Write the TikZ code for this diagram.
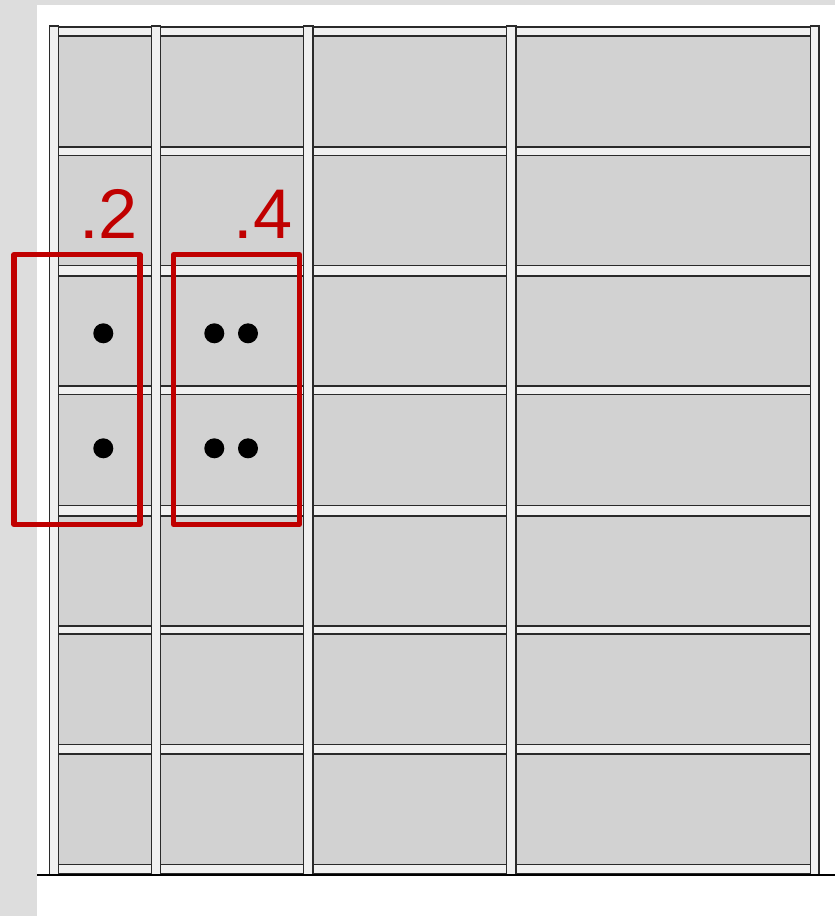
\documentclass[tikz,border=0pt]{standalone}
\usepackage{fontspec}
\setmainfont{Liberation Sans}
\definecolor{bggray}{HTML}{DDDDDD}
\definecolor{panelgray}{HTML}{D2D2D2}
\definecolor{railgray}{HTML}{F0F0F0}
\definecolor{edgegray}{HTML}{2A2A2A}
\definecolor{markred}{HTML}{C00000}
\begin{document}
\begin{tikzpicture}[
  x=0.03cm, y=-0.03cm,
  rail/.style={fill=railgray, draw=edgegray, line width=1.4pt},
  post/.style={fill=railgray, draw=edgegray, line width=1.4pt},
  group/.style={draw=markred, line width=4.3pt, line join=round},
  dot/.style={circle, fill=black, inner sep=0pt, minimum size=0.6cm},
  level/.style={text=markred, font=\fontsize{60}{60}\selectfont, anchor=base, inner sep=0pt}
]
\useasboundingbox (0,0) rectangle (835,916);
\fill[bggray] (0,0) rectangle (835,916);
\fill[white] (37,5) rectangle (835,916);
% panels
\fill[panelgray] (58,27) rectangle (810,873);
% rails
\draw[rail] (54,27) rectangle (815,36);
\draw[rail] (54,147) rectangle (815,155.5);
\draw[rail] (54,265.5) rectangle (815,276);
\draw[rail] (54,386) rectangle (815,394.5);
\draw[rail] (54,505.5) rectangle (815,516);
\draw[rail] (54,626) rectangle (815,634);
\draw[rail] (54,744.5) rectangle (815,754);
\draw[rail] (54,864.5) rectangle (815,873.5);
% posts
\draw[post] (49.5,26) rectangle (58.5,875);
\draw[post] (151.5,26) rectangle (160.5,875);
\draw[post] (303.5,26) rectangle (313,875);
\draw[post] (506.5,26) rectangle (516,875);
\draw[post] (810.5,26) rectangle (819,875);
\draw[line width=1.6pt] (37,875) -- (835,875);
% dots
\node[dot] (a1) at (103.3,333.3) {};
\node[dot] (a2) at (103.3,448.3) {};
\node[dot] (b1) at (214.3,333.3) {};
\node[dot] (b2) at (248,333.3) {};
\node[dot] (b3) at (214.3,448.3) {};
\node[dot] (b4) at (248,448.3) {};
% groups
\draw[group] (14,254.5) rectangle (140,524.5);
\draw[group] (173.5,254.5) rectangle (299.5,524.5);
\node[level] (twolabel) at (108.5,238.5) {.2};
\node[level] (fourlabel) at (263,238.5) {.4};
\end{tikzpicture}
\end{document}
